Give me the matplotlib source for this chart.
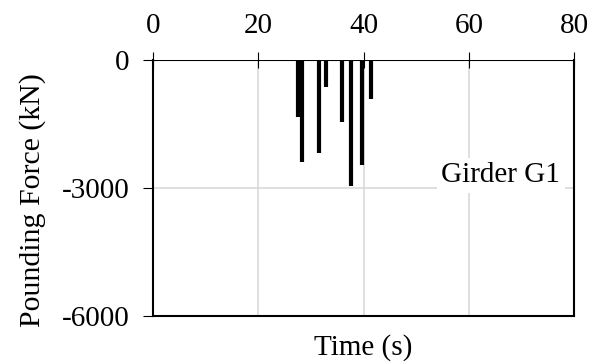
import matplotlib
matplotlib.use("Agg")
import matplotlib.pyplot as plt

plt.rcParams['font.family'] = ['Liberation Serif', 'DejaVu Serif']

# impactos de golpeteo
tiempos = [27.5, 28.3, 31.6, 32.8, 35.9, 37.6, 39.8, 41.4]
fuerzas = [-1340, -2390, -2170, -640, -1450, -2950, -2450, -920]

xticks = [0, 20, 40, 60, 80]
yticks = [0, -3000, -6000]

fig = plt.figure(figsize=(5.9, 3.64), dpi=100)
ax = fig.add_axes([153/590, 1 - 316/364, (574-153)/590, (316-60)/364])

ax.grid(True, color="#d9d9d9", linewidth=1.2)
ax.set_axisbelow(True)
ax.axhline(0, color="black", linewidth=1.5)
ax.vlines(tiempos, 0, fuerzas, color="black", linewidth=3)

ax.text(66.1, -2700, "Girder G1", fontsize=21, ha="center", va="center",
        bbox=dict(boxstyle="square,pad=0.15", facecolor="white", edgecolor="none"))

ax.set_xlim(0, 80)
ax.set_ylim(-6000, 0)
ax.set_xticks(xticks)
ax.set_yticks(yticks)
ax.set_yticklabels([str(v) for v in yticks])
ax.xaxis.tick_top()
ax.tick_params(axis="x", direction="inout", length=12, labelsize=21, pad=9, color="black")
ax.tick_params(axis="y", direction="out", length=7, labelsize=21, pad=10)
ax.spines["top"].set_visible(False)
for s in ["left", "right", "bottom"]:
    ax.spines[s].set_linewidth(1.5)

ax.set_xlabel("Time (s)", fontsize=21, labelpad=13)
ax.xaxis.set_label_position("bottom")
ax.set_ylabel("Pounding Force (kN)", fontsize=21.5)
ax.yaxis.set_label_coords(-0.255, 0.453)

fig.savefig("out.png", dpi=100)
